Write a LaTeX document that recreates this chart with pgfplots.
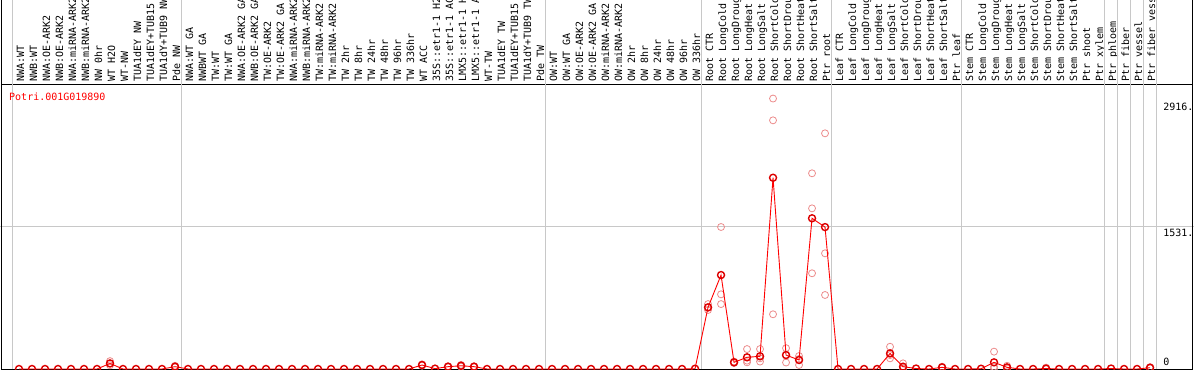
\documentclass[border=0pt]{standalone}
\usepackage{pgfplots}
\pgfplotsset{compat=1.18}
\usepackage{pgfplotstable}
\usepackage{fontspec}
\setmainfont{DejaVu Sans Mono}
\definecolor{gridgray}{RGB}{200,200,200}
\definecolor{reppink}{RGB}{236,140,140}
\definecolor{meanred}{RGB}{220,0,0}

\pgfplotstableread[row sep=\\]{
i v \\
1 0 \\ 2 0 \\ 3 0 \\ 4 0 \\ 5 0 \\ 6 0 \\ 7 0 \\ 8 60 \\ 9 0 \\ 10 0 \\
11 0 \\ 12 0 \\ 13 25 \\ 14 0 \\ 15 0 \\ 16 0 \\ 17 0 \\ 18 0 \\ 19 0 \\ 20 0 \\
21 0 \\ 22 0 \\ 23 0 \\ 24 0 \\ 25 0 \\ 26 0 \\ 27 0 \\ 28 0 \\ 29 0 \\ 30 0 \\
31 0 \\ 32 43 \\ 33 4 \\ 34 25 \\ 35 35 \\ 36 25 \\ 37 0 \\ 38 0 \\ 39 0 \\ 40 0 \\
41 0 \\ 42 0 \\ 43 0 \\ 44 0 \\ 45 0 \\ 46 0 \\ 47 0 \\ 48 0 \\ 49 0 \\ 50 0 \\
51 0 \\ 52 0 \\ 53 3 \\ 54 665 \\ 55 1013 \\ 56 72 \\ 57 126 \\ 58 137 \\ 59 2062 \\ 60 150 \\
61 97 \\ 62 1625 \\ 63 1530 \\ 64 0 \\ 65 0 \\ 66 0 \\ 67 0 \\ 68 168 \\ 69 25 \\ 70 5 \\
71 0 \\ 72 18 \\ 73 0 \\ 74 0 \\ 75 3 \\ 76 72 \\ 77 18 \\ 78 0 \\ 79 0 \\ 80 5 \\
81 0 \\ 82 0 \\ 83 0 \\ 84 0 \\ 85 5 \\ 86 0 \\ 87 0 \\ 88 14 \\
}\meantable

\pgfplotstableread[row sep=\\]{
i v \\
8 85 \\ 8 60 \\ 8 40 \\
13 35 \\ 13 20 \\ 13 20 \\
32 50 \\ 32 43 \\ 32 36 \\
34 30 \\ 34 25 \\ 34 20 \\
35 45 \\ 35 35 \\ 35 25 \\
36 30 \\ 36 25 \\ 36 20 \\
54 700 \\ 54 660 \\ 54 636 \\
55 1531 \\ 55 805 \\ 55 700 \\
56 80 \\ 56 72 \\ 56 64 \\
57 215 \\ 57 90 \\ 57 72 \\
58 215 \\ 58 115 \\ 58 80 \\
59 2916 \\ 59 2681 \\ 59 590 \\
60 225 \\ 60 155 \\ 60 70 \\
61 140 \\ 61 108 \\ 61 43 \\
62 2110 \\ 62 1732 \\ 62 1032 \\
63 2541 \\ 63 1247 \\ 63 798 \\
68 240 \\ 68 150 \\ 68 115 \\
69 61 \\ 69 10 \\ 69 5 \\
72 25 \\ 72 15 \\ 72 14 \\
76 187 \\ 76 25 \\ 76 5 \\
77 35 \\ 77 15 \\ 77 5 \\
80 15 \\ 80 0 \\ 80 0 \\
88 20 \\ 88 14 \\ 88 8 \\
}\reptable

\begin{document}
\begin{tikzpicture}
\useasboundingbox (-2pt,-1pt) rectangle (1192pt,369pt);
\clip (-2pt,-1pt) rectangle (1192pt,369pt);
\begin{axis}[
  at={(0,0)}, anchor=south west,
  scale only axis, width=1190pt, height=284pt,
  xmin=-0.3077, xmax=91.23, ymin=0, ymax=3062,
  axis line style={black, line width=1pt},
  xtick={1,...,88},
  xticklabels={NWA:WT,NWB:WT,NWA:OE-ARK2,NWB:OE-ARK2,NWA:miRNA-ARK2,NWB:miRNA-ARK2,NW 0hr,WT H2O,WT-NW,TUA1dEY NW,TUA1dEY+TUB15,TUA1dY+TUB9 NW,Pde NW,NWA:WT GA,NWBWT GA,TW:WT,TW:WT GA,NWA:OE-ARK2 GA,NWB:OE-ARK2 GA,TW:OE-ARK2,TW:OE-ARK2 GA,NWA:miRNA-ARK2,NWB:miRNA-ARK2,TW:miRNA-ARK2,TW:miRNA-ARK2,TW 2hr,TW 8hr,TW 24hr,TW 48hr,TW 96hr,TW 336hr,WT ACC,35S::etr1-1 H2O,35S::etr1-1 ACC,LMX5::etr1-1 H2O,LMX5::etr1-1 ACC,WT-TW,TUA1dEY TW,TUA1dEY+TUB15,TUA1dY+TUB9 TW,Pde TW,OW:WT,OW:WT GA,OW:OE-ARK2,OW:OE-ARK2 GA,OW:miRNA-ARK2,OW:miRNA-ARK2,OW 2hr,OW 8hr,OW 24hr,OW 48hr,OW 96hr,OW 336hr,Root CTR,Root LongCold,Root LongDrought,Root LongHeat,Root LongSalt,Root ShortCold,Root ShortDrought,Root ShortHeat,Root ShortSalt,Ptr root,Leaf CTR,Leaf LongCold,Leaf LongDrought,Leaf LongHeat,Leaf LongSalt,Leaf ShortCold,Leaf ShortDrought,Leaf ShortHeat,Leaf ShortSalt,Ptr leaf,Stem CTR,Stem LongCold,Stem LongDrought,Stem LongHeat,Stem LongSalt,Stem ShortCold,Stem ShortDrought,Stem ShortHeat,Stem ShortSalt,Ptr shoot,Ptr xylem,Ptr phloem,Ptr fiber,Ptr vessel,Ptr fiber vessel},
  xticklabel pos=upper,
  xticklabel style={rotate=90, anchor=west, font=\fontsize{10}{10}\selectfont, inner xsep=3pt, inner ysep=0pt, text height=10pt, text depth=0pt},
  major tick length=0pt,
  ytick=\empty,
  clip mode=individual,
  clip marker paths=true,
]
% grid lines
\draw[gridgray, line width=1pt] (axis cs:-1,1531) -- (axis cs:92,1531);
\pgfplotsinvokeforeach{0.5,13.5,41.5,53.5,63.5,73.5,84.5,85.5,86.5,87.5,88.5}{
  \draw[gridgray, line width=1pt] (axis cs:#1,0) -- (axis cs:#1,4300);
}
% borders extended into label area
\draw[black, line width=1pt] (rel axis cs:0,0) -- (rel axis cs:0,1.5);
\draw[black, line width=1pt] (rel axis cs:1,0) -- (rel axis cs:1,1.5);
% replicates
\addplot[only marks, mark=o, mark size=3.5pt, mark options={draw=reppink, line width=0.8pt}] table[x=i,y=v] {\reptable};
% mean
\addplot[red, line width=0.9pt, mark=o, mark size=3.5pt, mark options={draw=meanred, line width=1.4pt}] table[x=i,y=v] {\meantable};
% texts
\node[anchor=west, inner sep=0pt, text=red, font=\fontsize{10}{10}\selectfont] at (axis cs:0.23,2932) {Potri.001G019890};
\node[anchor=west, inner sep=0pt, font=\fontsize{10}{10}\selectfont] at (axis cs:89.0,2825) {2916.};
\node[anchor=west, inner sep=0pt, font=\fontsize{10}{10}\selectfont] at (axis cs:89.0,1466) {1531.};
\node[anchor=west, inner sep=0pt, font=\fontsize{10}{10}\selectfont] at (axis cs:89.0,75) {0};
\end{axis}
\end{tikzpicture}
\end{document}
